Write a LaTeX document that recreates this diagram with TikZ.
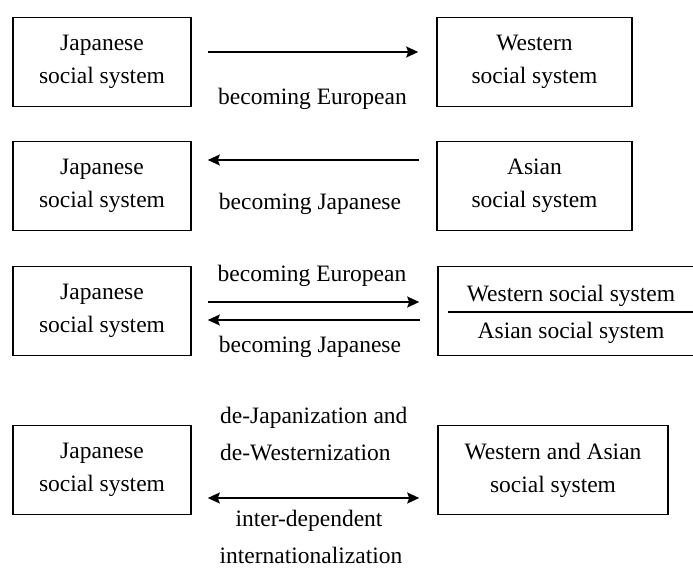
\documentclass[tikz,border=0pt]{standalone}
\usepackage{fontspec}
\setmainfont{Liberation Serif}
\usetikzlibrary{arrows.meta}
\begin{document}
\begin{tikzpicture}[x=1pt,y=-1pt,
  every node/.style={font=\fontsize{23.5}{33}\selectfont, inner sep=0pt},
  sysbox/.style={draw, line width=1.6pt, minimum height=89pt, align=center},
  lbox/.style={sysbox, minimum width=178pt},
  rbox/.style={sysbox, minimum width=195pt},
  tip/.style={Stealth[length=12pt,width=11pt,inset=2pt]},
  flow/.style={line width=1.6pt, -{Stealth[length=12pt,width=11pt,inset=2pt]}},
  twoway/.style={line width=1.6pt, {Stealth[length=12pt,width=11pt,inset=2pt]}-{Stealth[length=12pt,width=11pt,inset=2pt]}},
  lab/.style={anchor=base}]
\useasboundingbox (0,0) rectangle (693,568);
\clip (0,0) rectangle (693,568);

% Row 1: Japanese -> Western
\node[lbox] (jp1) at (102,62) {Japanese\\social system};
\node[rbox] (we1) at (534.5,62) {Western\\social system};
\draw[flow] ([xshift=16pt,yshift=10pt]jp1.east) -- ([xshift=-18pt,yshift=10pt]we1.west);
\node[lab] (be1) at (312.5,104) {becoming European};

% Row 2: Asian -> Japanese
\node[lbox] (jp2) at (102,186) {Japanese\\social system};
\node[rbox] (as2) at (534.5,186) {Asian\\social system};
\draw[flow] ([xshift=-17pt,yshift=26pt]as2.west) -- ([xshift=16pt,yshift=26pt]jp2.east);
\node[lab] (bj2) at (310,209) {becoming Japanese};

% Row 3: both directions, split box
\node[lbox] (jp3) at (102,311) {Japanese\\social system};
\node[sysbox, minimum width=266pt] (mix3) at (571,311) {};
\draw[line width=1.6pt] ([xshift=11pt,yshift=-1pt]mix3.west) -- ([xshift=-11pt,yshift=-1pt]mix3.east);
\node[lab] (ws3) at (571,301) {Western social system};
\node[lab] (as3) at (571,338) {Asian social system};
\draw[flow] ([xshift=16pt,yshift=9pt]jp3.east) -- ([xshift=-18pt,yshift=9pt]mix3.west);
\draw[flow] ([xshift=-17pt,yshift=-9pt]mix3.west) -- ([xshift=16pt,yshift=-9pt]jp3.east);
\node[lab] (be3) at (312,281) {becoming European};
\node[lab] (bj3) at (310,352) {becoming Japanese};

% Row 4: inter-dependent internationalization
\node[lbox] (jp4) at (102,470) {Japanese\\social system};
\node[sysbox, minimum width=230pt] (wa4) at (553,470) {Western and Asian\\social system};
\draw[twoway] ([xshift=16pt,yshift=-28pt]jp4.east) -- ([xshift=-18pt,yshift=-28pt]wa4.west);
\node[anchor=base west] (dj4) at (220,423) {de-Japanization and};
\node[anchor=base west] (dw4) at (220,460) {de-Westernization};
\node[lab] (id4) at (309,526) {inter-dependent};
\node[lab] (in4) at (311,563) {internationalization};
\end{tikzpicture}
\end{document}
